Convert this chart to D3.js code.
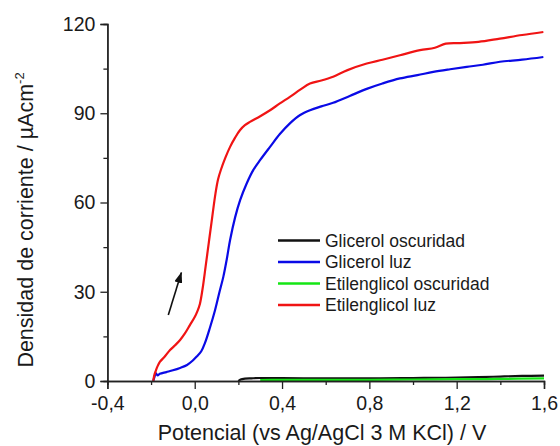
<!DOCTYPE html>
<html>
<head>
<meta charset="utf-8">
<script src="https://cdn.jsdelivr.net/npm/d3@7"></script>
<style>
  html, body { margin: 0; padding: 0; background: #fff; }
  svg { display: block; }
  text { font-family: "Liberation Sans", Arial, sans-serif; fill: #1a1a1a; }
</style>
</head>
<body>
<svg id="chart" width="560" height="446"></svg>
<script>
// Potential (V vs Ag/AgCl) and current density (µA cm^-2) for each sweep
const glicerolOscX = [0.20, 0.21, 0.23, 0.26, 0.30, 0.40, 0.55, 0.70, 0.85, 1.00, 1.15, 1.30, 1.40, 1.50, 1.60];
const glicerolOscY = [0.0, 0.5, 0.8, 0.9, 1.0, 1.0, 0.9, 0.9, 0.9, 1.0, 1.1, 1.3, 1.5, 1.7, 1.8];

const etilenOscX = [0.30, 0.35, 0.45, 0.60, 0.80, 1.00, 1.20, 1.40, 1.60];
const etilenOscY = [0.3, 0.4, 0.4, 0.4, 0.4, 0.5, 0.6, 0.7, 0.9];

const glicerolLuzX = [-0.19, -0.185, -0.178, -0.17, -0.16, -0.13, -0.10, -0.067, -0.035, -0.01, 0.009, 0.03, 0.047, 0.07, 0.093, 0.112, 0.131, 0.147, 0.162, 0.185, 0.208, 0.238, 0.268, 0.30, 0.345, 0.39, 0.436, 0.483, 0.528, 0.58, 0.634, 0.71, 0.788, 0.86, 0.94, 1.02, 1.093, 1.17, 1.246, 1.32, 1.398, 1.50, 1.597];
const glicerolLuzY = [0.0, 1.2, 2.6, 1.9, 2.4, 3.0, 3.6, 4.4, 5.4, 6.8, 8.2, 10.0, 12.8, 18.0, 23.8, 29.5, 35.0, 41.0, 47.4, 55.0, 60.8, 66.4, 70.9, 74.3, 78.7, 83.0, 86.6, 89.4, 91.0, 92.3, 93.5, 95.8, 98.2, 100.0, 101.7, 102.8, 103.9, 104.8, 105.6, 106.3, 107.3, 108.0, 108.9];

const etilenLuzX = [-0.19, -0.185, -0.178, -0.17, -0.159, -0.14, -0.113, -0.09, -0.067, -0.045, -0.022, 0.0, 0.012, 0.024, 0.036, 0.05, 0.065, 0.08, 0.095, 0.107, 0.12, 0.14, 0.162, 0.185, 0.207, 0.23, 0.253, 0.30, 0.345, 0.39, 0.436, 0.485, 0.528, 0.58, 0.634, 0.70, 0.788, 0.86, 0.94, 1.032, 1.10, 1.15, 1.215, 1.30, 1.398, 1.50, 1.597];
const etilenLuzY = [0.0, 2.0, 3.5, 5.0, 6.5, 8.0, 10.4, 12.0, 13.8, 16.0, 18.8, 21.5, 23.4, 26.0, 31.0, 38.5, 46.8, 55.0, 63.0, 67.8, 71.0, 75.0, 78.7, 81.8, 84.3, 86.0, 87.1, 89.0, 91.0, 93.3, 95.5, 98.0, 100.0, 101.0, 102.3, 104.5, 106.7, 108.0, 109.5, 111.2, 112.0, 113.4, 113.6, 114.0, 115.1, 116.3, 117.3];

const seriesNames = ["Glicerol oscuridad", "Glicerol luz", "Etilenglicol oscuridad", "Etilenglicol luz"];
const seriesColors = ["#111111", "#0a0ae6", "#14e614", "#f01414"];

const xTicks = [-0.4, 0.0, 0.4, 0.8, 1.2, 1.6];
const xMinorTicks = [-0.2, 0.2, 0.6, 1.0, 1.4];
const yTicks = [0, 30, 60, 90, 120];
const yMinorTicks = [15, 45, 75, 105];

// Scan-direction arrow, in data coordinates (tail, tip)
const arrowX = [-0.121, -0.061];
const arrowY = [22.2, 36.5];

const svg = d3.select("#chart");
const margin = { left: 107.4, right: 16, top: 24, bottom: 65 };
const W = 560, H = 446;

const x = d3.scaleLinear().domain([-0.4, 1.6]).range([margin.left, W - margin.right]);
const y = d3.scaleLinear().domain([0, 120]).range([H - margin.bottom, margin.top]);

const fmt = v => d3.format(".1f")(v).replace(".", ",").replace("−", "-");

// Curves
const drawOrder = [
  { xs: glicerolOscX, ys: glicerolOscY, i: 0 },
  { xs: etilenOscX, ys: etilenOscY, i: 2 },
  { xs: glicerolLuzX, ys: glicerolLuzY, i: 1 },
  { xs: etilenLuzX, ys: etilenLuzY, i: 3 }
];
const line = d3.line().x(d => x(d[0])).y(d => y(d[1])).curve(d3.curveCatmullRom.alpha(0.5));
const gCurves = svg.append("g");
drawOrder.forEach(s => {
  const pts = s.xs.map((v, k) => [v, s.ys[k]]);
  gCurves.append("path")
    .attr("d", line(pts))
    .attr("fill", "none")
    .attr("stroke", seriesColors[s.i])
    .attr("stroke-width", 2.2)
    .attr("stroke-linejoin", "round");
});

// Axes
const axisColor = "#222";
const xAxis = svg.append("g").attr("transform", `translate(0,${y(0)})`)
  .call(d3.axisBottom(x).tickValues(xTicks).tickFormat(fmt).tickSizeOuter(0).tickSize(8).tickPadding(7));
const xMinor = svg.append("g").attr("transform", `translate(0,${y(0)})`)
  .call(d3.axisBottom(x).tickValues(xMinorTicks).tickFormat("").tickSizeOuter(0).tickSize(4));
const yAxis = svg.append("g").attr("transform", `translate(${x(-0.4)},0)`)
  .call(d3.axisLeft(y).tickValues(yTicks).tickFormat(d3.format("d")).tickSizeOuter(0).tickSize(7).tickPadding(5));
const yMinor = svg.append("g").attr("transform", `translate(${x(-0.4)},0)`)
  .call(d3.axisLeft(y).tickValues(yMinorTicks).tickFormat("").tickSizeOuter(0).tickSize(4));

[xAxis, xMinor, yAxis, yMinor].forEach(g => {
  g.select(".domain").attr("stroke", axisColor).attr("stroke-width", 1.4);
  g.selectAll(".tick line").attr("stroke", axisColor).attr("stroke-width", 1.3);
  g.selectAll(".tick text").attr("font-family", "'Liberation Sans', Arial, sans-serif").attr("font-size", 19.5).attr("fill", "#1a1a1a");
});

// Axis titles
svg.append("text")
  .attr("x", 322).attr("y", 439.5)
  .attr("text-anchor", "middle")
  .attr("font-size", 21.5)
  .text("Potencial (vs Ag/AgCl 3 M KCl) / V");

const yTitle = svg.append("text")
  .attr("transform", "translate(33,220) rotate(-90)")
  .attr("text-anchor", "middle")
  .attr("font-size", 21.5);
yTitle.append("tspan").text("Densidad de corriente / µAcm");
yTitle.append("tspan").attr("dy", -9).attr("font-size", 13).text("-2");

// Arrow
svg.append("defs").append("marker")
  .attr("id", "head").attr("viewBox", "0 0 11 8")
  .attr("refX", 10.5).attr("refY", 4)
  .attr("markerWidth", 11).attr("markerHeight", 8)
  .attr("markerUnits", "userSpaceOnUse")
  .attr("orient", "auto")
  .append("path").attr("d", "M0,0 L11,4 L0,8 Z").attr("fill", "#111");
svg.append("line")
  .attr("x1", x(arrowX[0])).attr("y1", y(arrowY[0]))
  .attr("x2", x(arrowX[1])).attr("y2", y(arrowY[1]))
  .attr("stroke", "#111").attr("stroke-width", 1.6)
  .attr("marker-end", "url(#head)");

// Legend
const legend = svg.append("g").attr("transform", "translate(278,240.5)");
seriesNames.forEach((name, i) => {
  const row = legend.append("g").attr("transform", `translate(0,${i * 21.5})`);
  row.append("line").attr("x1", 0).attr("x2", 42).attr("y1", 0).attr("y2", 0)
    .attr("stroke", seriesColors[i]).attr("stroke-width", 2.6);
  row.append("text").attr("x", 47).attr("y", 0).attr("dy", "0.35em")
    .attr("font-size", 17.5).text(name);
});
</script>
</body>
</html>
